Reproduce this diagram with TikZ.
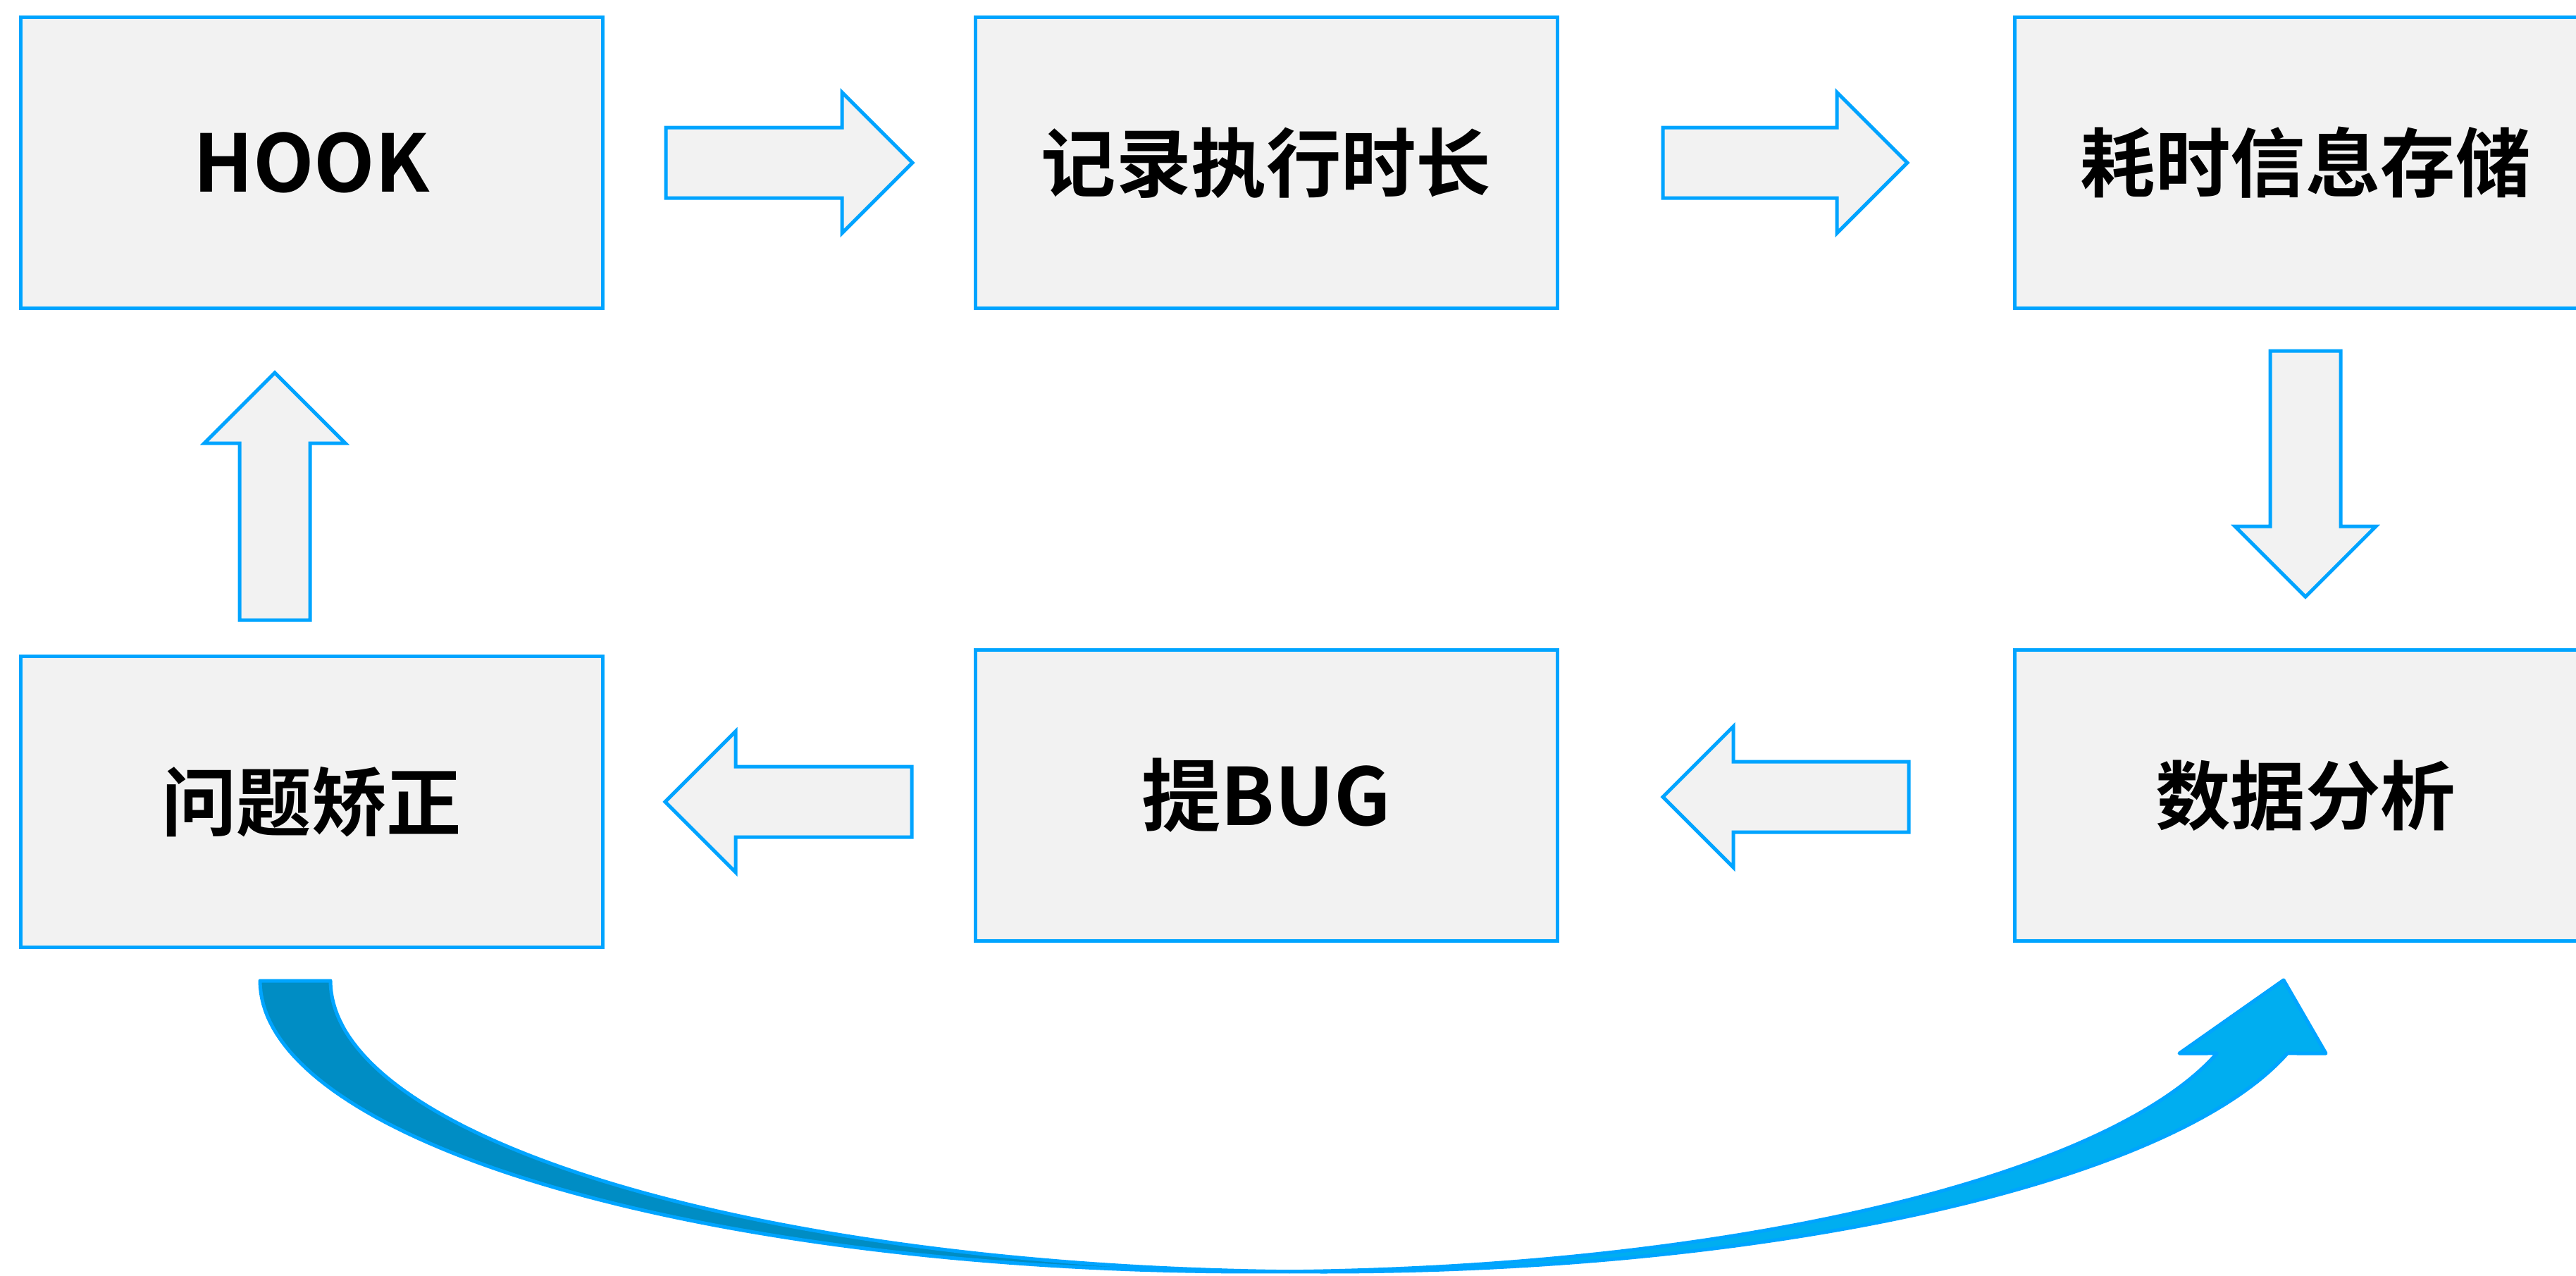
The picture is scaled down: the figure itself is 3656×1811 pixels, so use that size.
\documentclass[tikz,border=0pt]{standalone}
\usepackage{fontspec}
\setmainfont{Noto Sans CJK SC}[BoldFont={Noto Sans CJK SC Bold}]
\usetikzlibrary{calc}
\definecolor{edgeblue}{RGB}{0,164,255}
\definecolor{boxfill}{RGB}{242,242,242}
\definecolor{backblue}{RGB}{0,141,196}
\definecolor{frontblue}{RGB}{0,174,240}
\tikzset{
  box/.style={draw=edgeblue, fill=boxfill, line width=0.5mm, minimum width=82.6mm,
    minimum height=41.3mm, inner sep=0pt, font=\fontsize{32}{38}\selectfont\bfseries},
  cjkbox/.style={box, font=\fontsize{30.3}{36}\selectfont\bfseries},
  arrowbox/.style={draw=edgeblue, fill=boxfill, line width=0.5mm, line join=miter},
  ribbon/.style={draw=edgeblue, line width=0.5mm, line join=round},
}
% #1 name, #2 tail coordinate, #3 tip coordinate
\newcommand\blockarrow[3]{%
  \coordinate (#1-b) at ($(#3)!10mm!(#2)$);
  \draw[arrowbox] ($(#2)!5mm!90:(#3)$) -- ($(#1-b)!5mm!-90:(#2)$)
    -- ($(#1-b)!10mm!-90:(#2)$) -- (#3) -- ($(#1-b)!10mm!90:(#2)$)
    -- ($(#1-b)!5mm!90:(#2)$) -- ($(#2)!5mm!-90:(#3)$) -- cycle;
}
\begin{document}
\begin{tikzpicture}[x=0.1mm,y=-0.1mm]
\useasboundingbox (0,0) rectangle (3656,1811);
\clip (0,0) rectangle (3656,1811);

% boxes
\node[box]    (hook)  at (442,231)  {HOOK};
\node[cjkbox] (rec)   at (1797,231) {记录执行时长};
\node[cjkbox] (store) at (3272,231) {耗时信息存储};
\node[cjkbox] (fix)   at (442,1138) {问题矫正};
\node[box]    (bug)   at (1797,1129) {提BUG};
\node[cjkbox] (data)  at (3272,1129) {数据分析};

% block arrow ends
\coordinate (r1t) at (945,231);   \coordinate (r1h) at (1295,231);
\coordinate (r2t) at (2360,231);  \coordinate (r2h) at (2707,231);
\coordinate (dt)  at (3272,498);  \coordinate (dh)  at (3272,847);
\coordinate (l1t) at (2709,1131); \coordinate (l1h) at (2360,1131);
\coordinate (l2t) at (1294,1138); \coordinate (l2h) at (944,1138);
\coordinate (ut)  at (390,880);   \coordinate (uh)  at (390,529);

\blockarrow{ra}{r1t}{r1h}
\blockarrow{rb}{r2t}{r2h}
\blockarrow{da}{dt}{dh}
\blockarrow{la}{l1t}{l1h}
\blockarrow{lb}{l2t}{l2h}
\blockarrow{ua}{ut}{uh}

% curved return arrow: back (dark) part
\draw[ribbon, fill=backblue]
  plot[domain=180:87.97, samples=80, variable=\t] ({1780+1411*cos(\t)},{1392+413*sin(\t)})
  -- plot[domain=92.03:180, samples=80, variable=\t] ({1880+1411*cos(\t)},{1392+413*sin(\t)})
  -- cycle;
% front (bright) part with head
\coordinate (cl) at (3093,1495);
\coordinate (ctip) at (3241,1391);
\coordinate (cr) at (3301,1495);
\draw[ribbon, fill=frontblue]
  plot[domain=92.03:14.44, samples=80, variable=\t] ({1880+1411*cos(\t)},{1392+413*sin(\t)})
  -- (cr) -- (ctip) -- (cl)
  -- plot[domain=14.44:87.97, samples=80, variable=\t] ({1780+1411*cos(\t)},{1392+413*sin(\t)})
  -- cycle;
\end{tikzpicture}
\end{document}
